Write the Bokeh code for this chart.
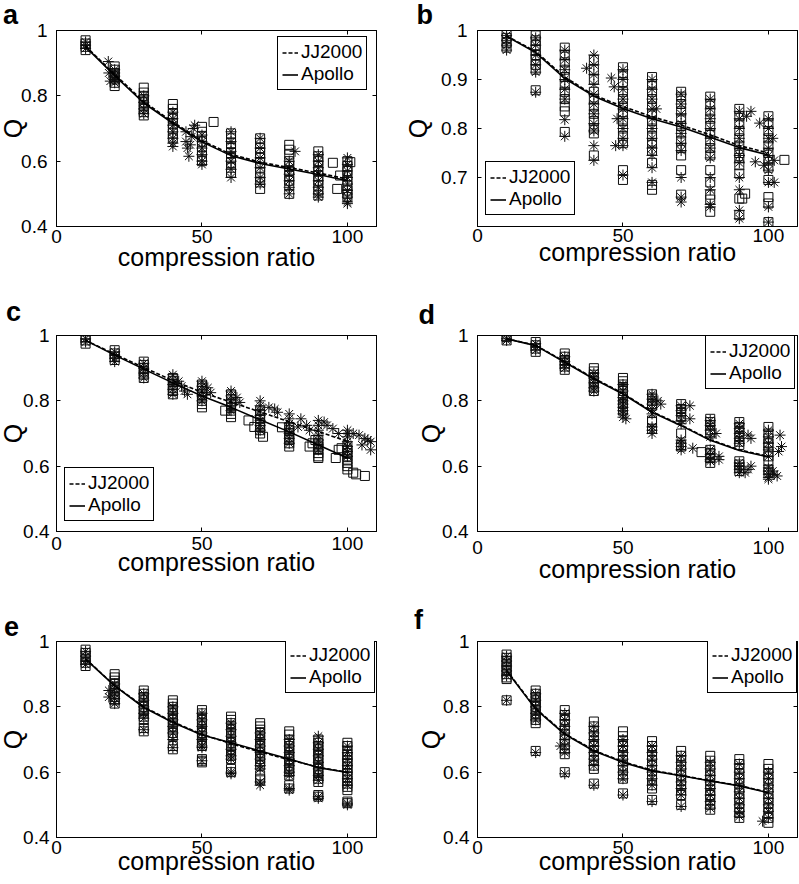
import math
from bokeh.plotting import figure
from bokeh.layouts import column, row
from bokeh.models import (Range1d, FixedTicker, LinearAxis, Label, Legend, LegendItem,
                          CustomJSTickFormatter)
from bokeh.embed import file_html
from bokeh.resources import INLINE

ratios = [10, 20, 30, 40, 50, 60, 70, 80, 90, 100]
x_ticks = [0, 50, 100]

# ---------------- panel a ----------------
a_jj2000 = [0.952, 0.866, 0.782, 0.720, 0.663, 0.621, 0.597, 0.580, 0.564, 0.545]
a_apollo = [0.950, 0.862, 0.778, 0.716, 0.659, 0.617, 0.593, 0.576, 0.559, 0.540]
a_sq = [
    [0.97, 0.96, 0.95, 0.94],
    [0.89, 0.88, 0.87, 0.86, 0.85, 0.84, 0.83],
    [0.825, 0.81, 0.80, 0.79, 0.78, 0.77, 0.76, 0.75, 0.74],
    [0.775, 0.76, 0.745, 0.73, 0.715, 0.70, 0.685, 0.67],
    [0.705, 0.69, 0.675, 0.66, 0.645, 0.63, 0.615, 0.60],
    [0.685, 0.67, 0.655, 0.64, 0.625, 0.61, 0.595, 0.58, 0.565],
    [0.67, 0.655, 0.64, 0.625, 0.61, 0.595, 0.58, 0.565, 0.55, 0.535, 0.515],
    [0.65, 0.635, 0.62, 0.60, 0.585, 0.57, 0.555, 0.54, 0.525, 0.50],
    [0.63, 0.615, 0.60, 0.585, 0.57, 0.555, 0.54, 0.525, 0.51, 0.495],
    [0.60, 0.585, 0.57, 0.555, 0.54, 0.525, 0.51, 0.50, 0.49],
]
a_st = [
    [0.965, 0.955, 0.945],
    [0.88, 0.87, 0.86, 0.85, 0.84],
    [0.80, 0.78, 0.76, 0.745],
    [0.75, 0.73, 0.71, 0.69, 0.67, 0.655, 0.645],
    [0.68, 0.66, 0.64, 0.62, 0.60, 0.59],
    [0.69, 0.66, 0.63, 0.60, 0.575, 0.55],
    [0.67, 0.64, 0.61, 0.58, 0.55, 0.53],
    [0.60, 0.58, 0.56, 0.54, 0.52, 0.50],
    [0.62, 0.60, 0.58, 0.56, 0.54, 0.52, 0.50, 0.49],
    [0.61, 0.59, 0.57, 0.55, 0.53, 0.51, 0.49, 0.475, 0.47],
]
a_sq_extra_x = [54, 95, 96.5, 97.5, 101]
a_sq_extra_y = [0.72, 0.595, 0.515, 0.556, 0.597]
a_st_extra_x = [17.8, 18, 18.5, 44.5, 44.5, 45, 45.5, 46, 46.5, 47, 47.5, 82]
a_st_extra_y = [0.905, 0.87, 0.845, 0.69, 0.66, 0.64, 0.615, 0.65, 0.675, 0.70, 0.71, 0.63]

# ---------------- panel b ----------------
b_jj2000 = [0.989, 0.957, 0.905, 0.868, 0.845, 0.824, 0.807, 0.787, 0.765, 0.750]
b_apollo = [0.988, 0.955, 0.902, 0.866, 0.841, 0.820, 0.803, 0.782, 0.761, 0.746]
b_sq = [
    [0.995, 0.985, 0.975, 0.965],
    [0.99, 0.98, 0.97, 0.96, 0.95, 0.94, 0.93, 0.92, 0.878],
    [0.965, 0.95, 0.935, 0.92, 0.905, 0.89, 0.875, 0.86, 0.845, 0.835, 0.793],
    [0.94, 0.92, 0.90, 0.875, 0.86, 0.845, 0.83, 0.815, 0.80, 0.79, 0.745],
    [0.925, 0.91, 0.895, 0.875, 0.86, 0.845, 0.83, 0.815, 0.80, 0.785, 0.77, 0.715, 0.695],
    [0.905, 0.89, 0.875, 0.86, 0.845, 0.83, 0.815, 0.80, 0.785, 0.77, 0.755, 0.73, 0.685, 0.675],
    [0.875, 0.865, 0.85, 0.835, 0.82, 0.805, 0.79, 0.775, 0.76, 0.745, 0.715, 0.665],
    [0.865, 0.85, 0.835, 0.82, 0.805, 0.79, 0.775, 0.76, 0.745, 0.715, 0.69, 0.665, 0.655, 0.63],
    [0.84, 0.825, 0.81, 0.795, 0.78, 0.765, 0.75, 0.74, 0.725, 0.708, 0.657, 0.623],
    [0.825, 0.81, 0.795, 0.78, 0.765, 0.75, 0.735, 0.72, 0.695, 0.66, 0.647, 0.609],
]
b_st = [
    [0.99, 0.98, 0.97, 0.96],
    [0.985, 0.97, 0.95, 0.93, 0.915, 0.874],
    [0.96, 0.94, 0.92, 0.90, 0.88, 0.86, 0.818, 0.784],
    [0.95, 0.93, 0.91, 0.89, 0.87, 0.85, 0.83, 0.81, 0.795, 0.765, 0.735],
    [0.92, 0.90, 0.88, 0.86, 0.84, 0.82, 0.80, 0.78, 0.765, 0.705],
    [0.90, 0.88, 0.86, 0.84, 0.82, 0.80, 0.78, 0.76, 0.745, 0.72, 0.69],
    [0.87, 0.85, 0.83, 0.81, 0.79, 0.77, 0.755, 0.70, 0.66, 0.65],
    [0.86, 0.84, 0.82, 0.80, 0.78, 0.76, 0.74, 0.70, 0.675, 0.645, 0.64],
    [0.835, 0.82, 0.80, 0.78, 0.76, 0.745, 0.73, 0.70, 0.675, 0.633, 0.616],
    [0.82, 0.80, 0.78, 0.76, 0.745, 0.73, 0.715, 0.69, 0.64, 0.609],
]
b_sq_extra_x = [91, 92, 105.5]
b_sq_extra_y = [0.657, 0.667, 0.736]
b_st_extra_x = [37.5, 46, 47, 48, 47.5, 61.5, 92.5, 94, 95.5, 97, 98.5, 101.5, 102, 102]
b_st_extra_y = [0.923, 0.903, 0.885, 0.82, 0.765, 0.84, 0.825, 0.835, 0.732, 0.811, 0.725, 0.78, 0.735, 0.69]

# ---------------- panel c ----------------
c_jj2000 = [0.985, 0.943, 0.902, 0.862, 0.826, 0.796, 0.766, 0.736, 0.706, 0.676]
c_apollo = [0.985, 0.940, 0.897, 0.855, 0.815, 0.780, 0.742, 0.705, 0.665, 0.625]
c_sq = [
    [0.995, 0.985, 0.975],
    [0.955, 0.945, 0.935, 0.925],
    [0.92, 0.91, 0.90, 0.89, 0.88, 0.87],
    [0.87, 0.86, 0.85, 0.84, 0.83, 0.82],
    [0.85, 0.84, 0.83, 0.82, 0.81, 0.80, 0.79, 0.78],
    [0.82, 0.805, 0.79, 0.78, 0.77, 0.76, 0.75],
    [0.77, 0.76, 0.745, 0.73, 0.72, 0.71, 0.70],
    [0.72, 0.71, 0.70, 0.69, 0.68, 0.67, 0.66],
    [0.68, 0.67, 0.66, 0.65, 0.64, 0.63, 0.625],
    [0.66, 0.65, 0.64, 0.63, 0.62, 0.61, 0.60, 0.59],
]
c_st = [
    [0.99, 0.98],
    [0.95, 0.94, 0.93, 0.92],
    [0.915, 0.90, 0.885, 0.87],
    [0.88, 0.865, 0.85, 0.835, 0.82],
    [0.86, 0.845, 0.83, 0.815, 0.80],
    [0.83, 0.815, 0.80, 0.785, 0.77],
    [0.80, 0.785, 0.77, 0.755, 0.74, 0.725, 0.71],
    [0.76, 0.745, 0.73, 0.715, 0.70, 0.685, 0.67],
    [0.74, 0.725, 0.71, 0.695, 0.68, 0.665, 0.65],
    [0.71, 0.70, 0.69, 0.675, 0.66, 0.645, 0.63],
]
c_sq_extra_x = [58, 66, 68, 71, 77.5, 87, 88, 89, 96, 97, 98, 102, 103, 106]
c_sq_extra_y = [0.77, 0.74, 0.72, 0.69, 0.719, 0.66, 0.67, 0.68, 0.625, 0.65, 0.655, 0.58, 0.575, 0.57]
c_st_extra_x = [42, 43, 44, 45, 52, 53, 62, 63, 73, 75, 76, 83, 84, 86, 87,
                92, 93, 95, 97, 102, 104, 105, 106, 107, 108, 108]
c_st_extra_y = [0.86, 0.845, 0.83, 0.82, 0.84, 0.825, 0.81, 0.795, 0.78, 0.775, 0.765, 0.72, 0.745, 0.725, 0.71,
                0.735, 0.725, 0.715, 0.70, 0.70, 0.695, 0.665, 0.685, 0.68, 0.675, 0.65]

# ---------------- panel d ----------------
d_jj2000 = [0.990, 0.970, 0.920, 0.869, 0.823, 0.767, 0.726, 0.681, 0.650, 0.630]
d_apollo = [0.990, 0.969, 0.918, 0.867, 0.821, 0.765, 0.724, 0.679, 0.648, 0.628]
d_sq = [
    [0.995, 0.985],
    [0.98, 0.97, 0.96, 0.95],
    [0.945, 0.935, 0.925, 0.915, 0.905, 0.895],
    [0.90, 0.89, 0.88, 0.87, 0.86, 0.85, 0.84, 0.83],
    [0.87, 0.86, 0.85, 0.84, 0.83, 0.82, 0.81, 0.79, 0.78, 0.77],
    [0.82, 0.81, 0.80, 0.79, 0.785, 0.74, 0.735, 0.715],
    [0.79, 0.775, 0.765, 0.75, 0.70, 0.665, 0.66],
    [0.745, 0.735, 0.725, 0.71, 0.70, 0.65, 0.64, 0.625, 0.61],
    [0.735, 0.72, 0.705, 0.69, 0.675, 0.665, 0.615, 0.605, 0.595, 0.585],
    [0.72, 0.70, 0.685, 0.67, 0.66, 0.645, 0.63, 0.615, 0.59, 0.58],
]
d_st = [
    [0.99, 0.985],
    [0.975, 0.965, 0.955],
    [0.935, 0.92, 0.91, 0.90],
    [0.885, 0.87, 0.855, 0.84, 0.83],
    [0.85, 0.83, 0.81, 0.80, 0.79, 0.78, 0.77, 0.76, 0.75],
    [0.82, 0.805, 0.79, 0.775, 0.76, 0.72, 0.71, 0.70],
    [0.785, 0.77, 0.755, 0.74, 0.73, 0.68, 0.67, 0.66, 0.65],
    [0.74, 0.725, 0.71, 0.69, 0.65, 0.635, 0.62, 0.615],
    [0.73, 0.715, 0.70, 0.685, 0.67, 0.61, 0.60, 0.59, 0.58],
    [0.71, 0.69, 0.67, 0.65, 0.63, 0.595, 0.585, 0.575, 0.565, 0.56],
]
d_sq_extra_x = [77]
d_sq_extra_y = [0.643]
d_st_extra_x = [51, 62, 63, 73, 73, 74, 82, 83, 83, 93, 94, 93, 94, 92,
                104, 104.5, 103.5, 102, 103, 101.5]
d_st_extra_y = [0.745, 0.80, 0.79, 0.785, 0.745, 0.655, 0.70, 0.63, 0.62, 0.695, 0.685, 0.59, 0.60, 0.58,
                0.695, 0.66, 0.645, 0.575, 0.57, 0.585]

# ---------------- panel e ----------------
e_jj2000 = [0.947, 0.865, 0.800, 0.754, 0.716, 0.687, 0.662, 0.638, 0.615, 0.600]
e_apollo = [0.946, 0.864, 0.798, 0.752, 0.714, 0.690, 0.665, 0.640, 0.614, 0.599]
e_sq = [
    [0.975, 0.965, 0.955, 0.945, 0.935, 0.925],
    [0.90, 0.89, 0.88, 0.87, 0.86, 0.85, 0.84, 0.83, 0.82, 0.81],
    [0.85, 0.84, 0.83, 0.82, 0.81, 0.80, 0.79, 0.78, 0.77, 0.76, 0.735, 0.725],
    [0.82, 0.81, 0.80, 0.79, 0.78, 0.77, 0.76, 0.75, 0.74, 0.73, 0.72, 0.71, 0.68, 0.67],
    [0.79, 0.78, 0.77, 0.76, 0.75, 0.74, 0.73, 0.72, 0.71, 0.70, 0.69, 0.68, 0.64, 0.635, 0.63],
    [0.77, 0.76, 0.75, 0.74, 0.73, 0.72, 0.71, 0.70, 0.69, 0.68, 0.67, 0.66, 0.65, 0.64, 0.61, 0.60],
    [0.75, 0.74, 0.73, 0.72, 0.71, 0.70, 0.69, 0.68, 0.67, 0.66, 0.65, 0.64, 0.63, 0.62, 0.59, 0.58, 0.575],
    [0.725, 0.715, 0.70, 0.69, 0.68, 0.67, 0.66, 0.65, 0.64, 0.63, 0.62, 0.61, 0.60, 0.59, 0.56, 0.55],
    [0.70, 0.69, 0.68, 0.67, 0.66, 0.65, 0.64, 0.63, 0.62, 0.61, 0.60, 0.59, 0.58, 0.57, 0.53, 0.525],
    [0.69, 0.68, 0.665, 0.655, 0.645, 0.635, 0.625, 0.615, 0.605, 0.595, 0.585, 0.575, 0.565, 0.555,
     0.545, 0.51, 0.505],
]
e_st = [
    [0.97, 0.955, 0.94, 0.93],
    [0.87, 0.855, 0.84, 0.825, 0.81],
    [0.84, 0.82, 0.80, 0.78, 0.765, 0.73],
    [0.80, 0.78, 0.76, 0.74, 0.72, 0.70, 0.675],
    [0.78, 0.76, 0.74, 0.72, 0.70, 0.68, 0.675, 0.635],
    [0.75, 0.73, 0.71, 0.69, 0.67, 0.65, 0.64, 0.60, 0.595],
    [0.72, 0.70, 0.68, 0.66, 0.64, 0.62, 0.61, 0.57, 0.56],
    [0.70, 0.68, 0.66, 0.64, 0.62, 0.60, 0.59, 0.55, 0.545],
    [0.71, 0.69, 0.67, 0.65, 0.63, 0.61, 0.59, 0.575, 0.525, 0.52],
    [0.68, 0.66, 0.64, 0.62, 0.60, 0.58, 0.56, 0.505, 0.50],
]
e_sq_extra_x = []
e_sq_extra_y = []
e_st_extra_x = [18, 18]
e_st_extra_y = [0.85, 0.83]

# ---------------- panel f ----------------
f_jj2000 = [0.912, 0.795, 0.718, 0.667, 0.632, 0.606, 0.590, 0.574, 0.559, 0.538]
f_apollo = [0.910, 0.793, 0.716, 0.665, 0.630, 0.604, 0.589, 0.573, 0.558, 0.537]
f_sq = [
    [0.96, 0.95, 0.94, 0.93, 0.92, 0.91, 0.90, 0.89, 0.885, 0.82],
    [0.85, 0.84, 0.83, 0.82, 0.81, 0.80, 0.79, 0.78, 0.77, 0.76, 0.75, 0.665],
    [0.79, 0.775, 0.76, 0.745, 0.73, 0.715, 0.70, 0.685, 0.67, 0.655, 0.60],
    [0.755, 0.74, 0.725, 0.71, 0.695, 0.68, 0.665, 0.65, 0.635, 0.62, 0.61, 0.565],
    [0.725, 0.71, 0.695, 0.68, 0.665, 0.65, 0.635, 0.62, 0.605, 0.59, 0.58, 0.535],
    [0.695, 0.68, 0.665, 0.65, 0.635, 0.62, 0.605, 0.59, 0.575, 0.56, 0.55, 0.515],
    [0.665, 0.65, 0.635, 0.62, 0.605, 0.59, 0.575, 0.56, 0.545, 0.53, 0.50],
    [0.65, 0.635, 0.62, 0.605, 0.59, 0.575, 0.56, 0.545, 0.53, 0.515, 0.50, 0.485],
    [0.64, 0.625, 0.61, 0.595, 0.58, 0.565, 0.55, 0.535, 0.52, 0.505, 0.49, 0.475, 0.46],
    [0.625, 0.61, 0.595, 0.58, 0.565, 0.55, 0.535, 0.52, 0.505, 0.49, 0.475, 0.46, 0.445],
]
f_st = [
    [0.955, 0.94, 0.925, 0.91, 0.895, 0.82],
    [0.84, 0.82, 0.80, 0.78, 0.76, 0.66],
    [0.78, 0.76, 0.74, 0.72, 0.70, 0.68, 0.66, 0.595],
    [0.74, 0.72, 0.70, 0.68, 0.66, 0.64, 0.62, 0.56],
    [0.70, 0.68, 0.66, 0.64, 0.62, 0.60, 0.58, 0.53],
    [0.68, 0.66, 0.64, 0.62, 0.60, 0.58, 0.56, 0.51],
    [0.65, 0.63, 0.61, 0.59, 0.57, 0.55, 0.53, 0.495],
    [0.63, 0.61, 0.59, 0.57, 0.55, 0.53, 0.51, 0.49],
    [0.625, 0.60, 0.58, 0.56, 0.54, 0.52, 0.50, 0.48, 0.465],
    [0.60, 0.58, 0.56, 0.54, 0.52, 0.50, 0.48, 0.46],
]
f_sq_extra_x = []
f_sq_extra_y = []
f_st_extra_x = [28.5, 98]
f_st_extra_y = [0.68, 0.45]

FONT = "Liberation Sans"
MARK = "#0d0d0d"


def flatten(groups, extra_x, extra_y):
    xs, ys = [], []
    for r, g in zip(ratios, groups):
        for v in g:
            xs.append(r)
            ys.append(v)
    return xs + list(extra_x), ys + list(extra_y)


def style_axis(ax, ticks, blank=False):
    ax.ticker = FixedTicker(ticks=ticks)
    ax.axis_line_color = "black"
    ax.axis_line_width = 1
    ax.major_tick_line_color = "black"
    ax.major_tick_in = 4
    ax.major_tick_out = 0
    ax.minor_tick_in = 0
    ax.minor_tick_out = 0
    ax.minor_tick_line_color = None
    ax.major_label_text_font = FONT
    ax.major_label_text_color = "black"
    if blank:
        ax.formatter = CustomJSTickFormatter(code="return '';")
        ax.major_label_text_font_size = "0px"
        ax.major_label_standoff = 0
    else:
        ax.major_label_text_font_size = "19px"


def make_panel(letter, jj, ap, sq, st, sqx, sqy, stx, sty, ymin, yticks, g):
    p = figure(width=g["W"], height=g["H"], x_range=Range1d(0, 110), y_range=Range1d(ymin, 1.0),
               output_backend="svg", toolbar_location=None, tools="",
               min_border_left=g["L"], min_border_right=g["R"],
               min_border_top=g["T"], min_border_bottom=g["B"])
    p.title.visible = False
    p.xgrid.visible = False
    p.ygrid.visible = False
    p.outline_line_color = "black"
    p.outline_line_width = 1
    p.background_fill_color = "white"
    p.border_fill_color = "white"

    xa = p.xaxis[0]
    style_axis(xa, x_ticks)
    xa.major_label_standoff = g["xs"]
    xa.axis_label = "compression ratio"
    xa.axis_label_text_font = FONT
    xa.axis_label_text_font_size = "25px"
    xa.axis_label_text_font_style = "normal"
    xa.axis_label_text_color = "black"
    xa.axis_label_standoff = g["xls"]

    ya = p.yaxis[0]
    style_axis(ya, yticks)
    ya.major_label_standoff = g["ys"]
    ya.formatter = CustomJSTickFormatter(code="return (Math.round(tick*10)/10).toString();")

    top = LinearAxis()
    style_axis(top, x_ticks, blank=True)
    p.add_layout(top, "above")
    right = LinearAxis()
    style_axis(right, yticks, blank=True)
    p.add_layout(right, "right")

    qx, qy = flatten(sq, sqx, sqy)
    sx, sy = flatten(st, stx, sty)
    p.scatter(qx, qy, marker="square", size=9, fill_color=None, line_color=MARK, line_width=1)
    p.scatter(sx, sy, marker="asterisk", size=11, line_color=MARK, line_width=1)

    r_jj = p.line(ratios, jj, line_color="black", line_width=1.6, line_dash="4 2")
    r_ap = p.line(ratios, ap, line_color="black", line_width=1.6)

    fh = g["H"] - g["T"] - g["B"]

    leg = Legend(items=[LegendItem(label="JJ2000", renderers=[r_jj]),
                        LegendItem(label="Apollo", renderers=[r_ap])],
                 location=g["leg"], margin=0, padding=4, spacing=0,
                 glyph_width=16, glyph_height=21, label_height=21, label_standoff=3,
                 label_text_font=FONT, label_text_font_size="19px", label_text_line_height=1.0,
                 label_text_color="black",
                 border_line_color="black", border_line_width=1, border_line_alpha=1,
                 background_fill_color="white", background_fill_alpha=1)
    p.add_layout(leg)

    # y-axis title, placed in the panel above the frame so it is not clipped
    p.add_layout(Label(x=g["qx"], y=-fh / 2, x_units="screen", y_units="screen", text="Q",
                       angle=math.pi / 2, text_align="center", text_baseline="middle",
                       text_font=FONT, text_font_size="25px", text_color="black"), "above")
    # panel letter, placed in the panel left of the y axis
    p.add_layout(Label(x=g["lx"], y=g["ly"], x_units="screen", y_units="screen", text=letter,
                       text_align="left", text_baseline="alphabetic", text_font=FONT,
                       text_font_style="bold", text_font_size="27px", text_color="black"), "left")
    return p


geo = {
    "a": dict(W=400, H=295, L=56, R=24, T=30, B=69, xs=3, xls=-3, ys=9,
              qx=-44, lx=-0.6, ly=212, leg=(221, 136)),
    "b": dict(W=399, H=295, L=77, R=2, T=30, B=69, xs=2, xls=-7, ys=10,
              qx=-59.5, lx=-6.1, ly=212, leg=(8, 11)),
    "c": dict(W=400, H=300, L=56, R=24, T=40, B=64, xs=5, xls=-5, ys=7,
              qx=-44, lx=0.4, ly=220, leg=(8, 10)),
    "d": dict(W=399, H=300, L=77, R=2, T=40, B=64, xs=9, xls=-2, ys=9,
              qx=-47, lx=-5.1, ly=217, leg=(228, 142)),
    "e": dict(W=400, H=289, L=56, R=24, T=46, B=47, xs=3, xls=-10, ys=7,
              qx=-44, lx=-1.6, ly=211, leg=(229, 144)),
    "f": dict(W=399, H=289, L=77, R=2, T=46, B=47, xs=3, xls=-10, ys=8,
              qx=-47, lx=-17.6, ly=218, leg=(230, 144)),
}

pa = make_panel("a", a_jj2000, a_apollo, a_sq, a_st, a_sq_extra_x, a_sq_extra_y,
                a_st_extra_x, a_st_extra_y, 0.4, [0.4, 0.6, 0.8, 1.0], geo["a"])
pb = make_panel("b", b_jj2000, b_apollo, b_sq, b_st, b_sq_extra_x, b_sq_extra_y,
                b_st_extra_x, b_st_extra_y, 0.6, [0.7, 0.8, 0.9, 1.0], geo["b"])
pc = make_panel("c", c_jj2000, c_apollo, c_sq, c_st, c_sq_extra_x, c_sq_extra_y,
                c_st_extra_x, c_st_extra_y, 0.4, [0.4, 0.6, 0.8, 1.0], geo["c"])
pd_ = make_panel("d", d_jj2000, d_apollo, d_sq, d_st, d_sq_extra_x, d_sq_extra_y,
                 d_st_extra_x, d_st_extra_y, 0.4, [0.4, 0.6, 0.8, 1.0], geo["d"])
pe = make_panel("e", e_jj2000, e_apollo, e_sq, e_st, e_sq_extra_x, e_sq_extra_y,
                e_st_extra_x, e_st_extra_y, 0.4, [0.4, 0.6, 0.8, 1.0], geo["e"])
pf = make_panel("f", f_jj2000, f_apollo, f_sq, f_st, f_sq_extra_x, f_sq_extra_y,
                f_st_extra_x, f_st_extra_y, 0.4, [0.4, 0.6, 0.8, 1.0], geo["f"])

layout = column(row(pa, pb), row(pc, pd_), row(pe, pf))
open("out.html", "w").write(file_html(layout, INLINE))
